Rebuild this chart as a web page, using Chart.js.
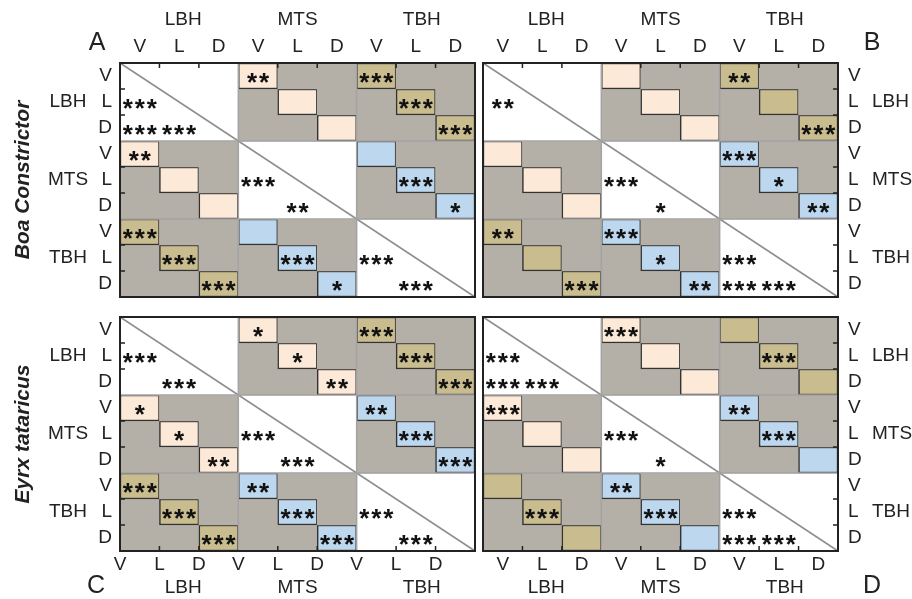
<!DOCTYPE html>
<html>
<head>
<meta charset="utf-8">
<script src="https://cdn.jsdelivr.net/npm/chart.js@4.4.1/dist/chart.umd.min.js"></script>
<style>
  body { margin: 0; background: #fff; }
  #wrap { position: relative; width: 912px; height: 599px; }
  canvas { position: absolute; left: 0; top: 0; }
</style>
</head>
<body>
<div id="wrap">
  <canvas id="pA" width="912" height="599"></canvas>
  <canvas id="pB" width="912" height="599"></canvas>
  <canvas id="pC" width="912" height="599"></canvas>
  <canvas id="pD" width="912" height="599"></canvas>
</div>
<script>
const groups = ['LBH', 'MTS', 'TBH'];
const views = ['V', 'L', 'D'];
const cellLabels = groups.flatMap(g => views.map(v => g + ' ' + v));

// number of stars, lower triangle (row > col), order LBH V L D, MTS V L D, TBH V L D
const starsA = [[], [3], [3, 3], [2, 0, 0], [0, 0, 0, 3], [0, 0, 0, 0, 2],
  [3, 0, 0, 0, 0, 0], [0, 3, 0, 0, 3, 0, 3], [0, 0, 3, 0, 0, 1, 0, 3]];
const starsB = [[], [2], [0, 0], [0, 0, 0], [0, 0, 0, 3], [0, 0, 0, 0, 1],
  [2, 0, 0, 3, 0, 0], [0, 0, 0, 0, 1, 0, 3], [0, 0, 3, 0, 0, 2, 3, 3]];
const starsC = [[], [3], [0, 3], [1, 0, 0], [0, 1, 0, 3], [0, 0, 2, 0, 3],
  [3, 0, 0, 2, 0, 0], [0, 3, 0, 0, 3, 0, 3], [0, 0, 3, 0, 0, 3, 0, 3]];
const starsD = [[], [3], [3, 3], [3, 0, 0], [0, 0, 0, 3], [0, 0, 0, 0, 1],
  [0, 0, 0, 2, 0, 0], [0, 3, 0, 0, 3, 0, 3], [0, 0, 0, 0, 0, 0, 3, 3]];

const gray = '#b4b0a8';
const pairColors = { 1: '#fde9d8', 2: '#c9bd8f', 3: '#bdd7ef' }; // LBH-MTS, LBH-TBH, MTS-TBH
const ink = '#222';
const font = '"Liberation Sans", Arial, sans-serif';

const panels = [
  { id: 'pA', stars: starsA, box: [120, 63, 475, 297], letter: 'A', letterX: 97, xSide: 'top', ySide: 'left', title: 'Boa Constrictor' },
  { id: 'pB', stars: starsB, box: [483, 63, 838, 297], letter: 'B', letterX: 872, xSide: 'top', ySide: 'right' },
  { id: 'pC', stars: starsC, box: [120, 317, 475, 551], letter: 'C', letterX: 96, xSide: 'bottom', ySide: 'left', edgeLabels: true, title: 'Eyrx tataricus' },
  { id: 'pD', stars: starsD, box: [483, 317, 838, 551], letter: 'D', letterX: 872, xSide: 'bottom', ySide: 'right' }
];

function cellColor(r, c) {
  const gr = Math.floor(r / 3), gc = Math.floor(c / 3);
  if (gr === gc) return '#ffffff';
  if (r % 3 === c % 3) return pairColors[gr + gc];
  return gray;
}
function isColored(r, c) {
  return Math.floor(r / 3) !== Math.floor(c / 3) && r % 3 === c % 3;
}
function starCount(stars, r, c) {
  if (r > c) return stars[r][c];
  if (Math.floor(r / 3) !== Math.floor(c / 3) && r !== c) return stars[c][r];
  return 0;
}

const matrixPlugin = {
  id: 'matrix',
  beforeDatasetsDraw(chart, args, opts) {
    const { ctx } = chart;
    const x = chart.scales.x, y = chart.scales.y;
    const w = x.getPixelForValue(1) - x.getPixelForValue(0);
    ctx.save();
    ctx.fillStyle = gray;
    for (let gr = 0; gr < 3; gr++) {
      for (let gc = 0; gc < 3; gc++) {
        if (gr === gc) continue;
        const x0 = x.getPixelForValue(gc * 3) - w / 2;
        const y0 = y.getPixelForValue(gr * 3);
        ctx.fillRect(x0, y0, w * 3, y.getPixelForValue(gr * 3 + 3) - y0);
      }
    }
    ctx.restore();
  },
  afterDatasetsDraw(chart, args, opts) {
    const p = opts.panel;
    const { ctx, chartArea: a } = chart;
    const x = chart.scales.x, y = chart.scales.y;
    const w = x.getPixelForValue(1) - x.getPixelForValue(0);
    const colLeft = k => x.getPixelForValue(k) - w / 2;
    ctx.save();

    // diagonal line
    ctx.strokeStyle = '#8e8e8e';
    ctx.lineWidth = 1.5;
    ctx.beginPath();
    ctx.moveTo(a.left, a.top);
    ctx.lineTo(a.right, a.bottom);
    ctx.stroke();

    // block separators
    ctx.strokeStyle = '#a3a3a3';
    ctx.lineWidth = 1.5;
    [3, 6].forEach(k => {
      const px = colLeft(k), py = y.getPixelForValue(k);
      ctx.beginPath();
      ctx.moveTo(px, a.top); ctx.lineTo(px, a.bottom);
      ctx.moveTo(a.left, py); ctx.lineTo(a.right, py);
      ctx.stroke();
    });

    // frame
    ctx.strokeStyle = ink;
    ctx.lineWidth = 2;
    ctx.strokeRect(a.left, a.top, a.right - a.left, a.bottom - a.top);

    // inward ticks
    ctx.lineWidth = 1.5;
    ctx.beginPath();
    [1, 2, 4, 5, 7, 8].forEach(k => {
      const px = colLeft(k), py = y.getPixelForValue(k);
      if (p.xSide === 'top') { ctx.moveTo(px, a.top); ctx.lineTo(px, a.top + 5); }
      else { ctx.moveTo(px, a.bottom); ctx.lineTo(px, a.bottom - 5); }
      if (p.ySide === 'left') { ctx.moveTo(a.left, py); ctx.lineTo(a.left + 5, py); }
      else { ctx.moveTo(a.right, py); ctx.lineTo(a.right - 5, py); }
    });
    ctx.stroke();

    // stars
    ctx.fillStyle = '#111';
    ctx.font = 'bold 26px ' + font;
    ctx.textAlign = 'center';
    ctx.textBaseline = 'alphabetic';
    const gap = 12;
    for (let r = 0; r < 9; r++) {
      for (let c = 0; c < 9; c++) {
        const n = starCount(p.stars, r, c);
        if (!n) continue;
        const cx = x.getPixelForValue(c);
        const cy = (y.getPixelForValue(r) + y.getPixelForValue(r + 1)) / 2;
        for (let s = 0; s < n; s++) {
          ctx.fillText('*', cx + (s - (n - 1) / 2) * gap, cy + 15);
        }
      }
    }

    // axis labels
    ctx.fillStyle = ink;
    ctx.font = '19px ' + font;
    ctx.textBaseline = 'middle';
    ctx.textAlign = 'center';
    const grpShift = [4, 0, 6];
    const xViewY = p.xSide === 'top' ? a.top - 16 : a.bottom + 14;
    const xGroupY = p.xSide === 'top' ? a.top - 43 : a.bottom + 37;
    for (let k = 0; k < 9; k++) {
      const px = p.edgeLabels ? colLeft(k) : x.getPixelForValue(k);
      ctx.fillText(views[k % 3], px, xViewY);
    }
    groups.forEach((g, i) => {
      ctx.fillText(g, x.getPixelForValue(i * 3 + 1) + grpShift[i], xGroupY);
    });
    for (let k = 0; k < 9; k++) {
      const py = (y.getPixelForValue(k) + y.getPixelForValue(k + 1)) / 2;
      if (p.ySide === 'left') { ctx.textAlign = 'right'; ctx.fillText(views[k % 3], a.left - 8, py); }
      else { ctx.textAlign = 'left'; ctx.fillText(views[k % 3], a.right + 10, py); }
    }
    groups.forEach((g, i) => {
      const py = (y.getPixelForValue(i * 3) + y.getPixelForValue(i * 3 + 3)) / 2;
      if (p.ySide === 'left') { ctx.textAlign = 'center'; ctx.fillText(g, a.left - 52, py); }
      else { ctx.textAlign = 'left'; ctx.fillText(g, a.right + 34, py); }
    });

    // panel letter
    ctx.font = '25px ' + font;
    ctx.textAlign = 'center';
    ctx.textBaseline = 'alphabetic';
    ctx.fillText(p.letter, p.letterX, p.xSide === 'top' ? a.top - 13 : a.bottom + 42);

    // species title
    if (p.title) {
      ctx.font = 'bold italic 21px ' + font;
      ctx.translate(23, (a.top + a.bottom) / 2);
      ctx.rotate(-Math.PI / 2);
      ctx.textAlign = 'center';
      ctx.textBaseline = 'middle';
      ctx.fillText(p.title, 0, 0);
    }
    ctx.restore();
  }
};

panels.forEach(p => {
  const datasets = [];
  for (let r = 0; r < 9; r++) {
    const cols = cellLabels.map((_, c) => c);
    datasets.push({
      label: cellLabels[r],
      data: cols.map(() => [r, r + 1]),
      backgroundColor: cols.map(c => cellColor(r, c)),
      borderColor: cols.map(c => isColored(r, c) ? '#333' : 'rgba(0,0,0,0)'),
      borderWidth: cols.map(c => isColored(r, c) ? 1.5 : 0),
      borderSkipped: false,
      grouped: false,
      barPercentage: 1,
      categoryPercentage: 1
    });
  }
  new Chart(document.getElementById(p.id).getContext('2d'), {
    type: 'bar',
    data: { labels: cellLabels, datasets },
    options: {
      responsive: false,
      animation: false,
      devicePixelRatio: 1,
      layout: { padding: { left: p.box[0], top: p.box[1], right: 912 - p.box[2], bottom: 599 - p.box[3] } },
      scales: {
        x: { type: 'category', offset: true, display: false },
        y: { type: 'linear', min: 0, max: 9, reverse: true, display: false }
      },
      plugins: { legend: { display: false }, tooltip: { enabled: false }, matrix: { panel: p } }
    },
    plugins: [matrixPlugin]
  });
});
</script>
</body>
</html>
